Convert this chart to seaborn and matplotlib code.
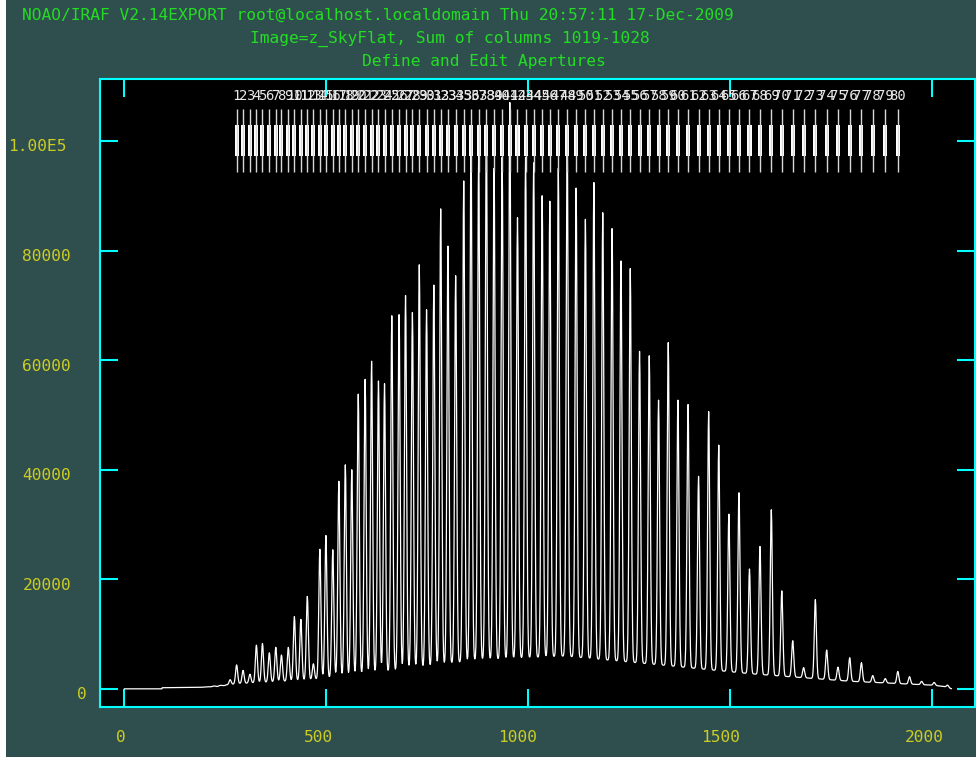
import numpy as np
import matplotlib
matplotlib.use("Agg")
import matplotlib.pyplot as plt
from matplotlib.patches import Rectangle
from matplotlib.transforms import ScaledTranslation, blended_transform_factory
import seaborn as sns

# ---- header text -------------------------------------------------------
header = "NOAO/IRAF V2.14EXPORT root@localhost.localdomain Thu 20:57:11 17-Dec-2009"
subtitle = "Image=z_SkyFlat, Sum of columns 1019-1028"
title = "Define and Edit Apertures"

# ---- apertures (column of centre) and peak counts of each fibre -------
aperture_ids = list(range(1, 81))
aperture_centers = [
    279, 295, 312, 328, 343, 360, 376, 390, 407, 422,
    438, 454, 469, 485, 500, 517, 532, 548, 564, 580,
    597, 613, 630, 645, 663, 681, 697, 714, 731, 749,
    767, 784, 802, 821, 841, 859, 878, 897, 916, 936,
    955, 974, 994, 1014, 1035, 1054, 1075, 1097, 1119, 1142,
    1163, 1185, 1208, 1230, 1253, 1276, 1300, 1323, 1347, 1371,
    1396, 1422, 1447, 1472, 1497, 1522, 1548, 1574, 1602, 1628,
    1655, 1682, 1711, 1739, 1767, 1796, 1825, 1853, 1884, 1915,
]
peak_heights = [
    4400, 3400, 2700, 8000, 8300, 6600, 7600, 6200, 7600, 13200,
    12700, 16900, 4600, 25500, 28000, 25400, 37900, 40900, 40000, 53800,
    56500, 59800, 56200, 55700, 68100, 68300, 71800, 68700, 77400, 69200,
    73700, 87600, 80800, 75400, 92700, 100000, 98000, 103000, 95000, 97000,
    107000, 86000, 97000, 96000, 90000, 89000, 95000, 100000, 91400, 85700,
    92400, 86900, 84000, 78100, 76700, 61600, 60800, 52700, 63200, 52700,
    51900, 38800, 50600, 44500, 31900, 35800, 21900, 26000, 32700, 17900,
    8800, 3900, 16300, 7100, 4000, 5700, 4800, 2450, 1900, 3200,
]

# faint fibres outside the defined apertures
extra_centers = [199, 215, 231, 247, 263, 1944, 1974, 2005, 2038]
extra_heights = [350, 400, 450, 600, 1700, 2250, 1400, 1200, 700]

# inter-fibre (scattered light) level
baseline_columns = [1, 94, 95, 190, 287, 452, 640, 876, 1092, 1342, 1548, 1800, 2000, 2030, 2048]
baseline_levels = [30, 30, 230, 300, 1000, 1600, 3000, 5300, 6000, 4300, 2800, 1400, 700, 450, 50]

xticks = [0, 500, 1000, 1500, 2000]
xtick_labels = ["0", "500", "1000", "1500", "2000"]
yticks = [0, 20000, 40000, 60000, 80000, 100000]
ytick_labels = ["0", "20000", "40000", "60000", "80000", "1.00E5"]

# ---- colours -------------------------------------------------------------
BG = "#2f4f4f"
AX = "#00ffff"
LABEL = "#cccc22"
TITLE = "#22dd22"

sns.set_theme(style="dark")
plt.rcParams["font.family"] = ["DejaVu Sans Mono"]

# ---- build the summed-column profile -------------------------------------
columns = np.arange(1, 2049)
flux = np.interp(columns, baseline_columns, baseline_levels).astype(float)
sigma = 2.6
for c, h in zip(aperture_centers + extra_centers, peak_heights + extra_heights):
    amp = h - np.interp(c, baseline_columns, baseline_levels)
    flux += amp * np.exp(-0.5 * ((columns - c) / sigma) ** 2)

W, H = 976, 757
fig = plt.figure(figsize=(W / 100, H / 100), dpi=100, facecolor=BG)
# white margin along the left edge of the window
fig.patches.append(Rectangle((0, 0), 6 / W, 1, transform=fig.transFigure,
                             facecolor="white", edgecolor="none", zorder=-1))
ax = fig.add_axes([100 / W, 1 - 707 / H, 875 / W, 628 / H])
ax.set_facecolor("black")

sns.lineplot(x=columns, y=flux, ax=ax, color="white", linewidth=0.9,
             estimator=None, sort=False)

# aperture markers
ax.vlines(aperture_centers, 94300, 105800, color="#d8d8d8", linewidth=1.0)
ax.bar(aperture_centers, 5600, bottom=97300, width=10, color="white",
       edgecolor="none", linewidth=0)
for i, c in zip(aperture_ids, aperture_centers):
    ax.text(c, 108200, str(i), ha="center", va="center", color="#e8e8e8",
            fontsize=10)

ax.set_xlim(-59, 2106)
ax.set_ylim(-3285, 111300)
ax.set_xlabel("")
ax.set_ylabel("")
ax.grid(False)

for s in ax.spines.values():
    s.set_visible(True)
    s.set_color(AX)
    s.set_linewidth(1.5)

ax.set_xticks(xticks)
ax.set_yticks(yticks)
ax.set_xticklabels([])
ax.set_yticklabels([])
ax.tick_params(axis="both", which="both", direction="in", length=13,
               width=1.5, color=AX, top=True, right=True,
               bottom=True, left=True)

# tick labels
px = fig.dpi_scale_trans
xt = blended_transform_factory(ax.transData, ax.transAxes)
x_nudge = [-3, -7, -10, -10, -8]
for v, lab, dx in zip(xticks, xtick_labels, x_nudge):
    ax.text(v, 0, lab, transform=xt + ScaledTranslation(dx / 100, -30 / 100, px),
            ha="center", va="center", color=LABEL, fontsize=11.7, clip_on=False)

yt = blended_transform_factory(ax.transAxes, ax.transData)
y_right = [87, 71, 71, 71, 71, 67]
for v, lab, xr in zip(yticks, ytick_labels, y_right):
    ax.text(0, v, lab, transform=yt + ScaledTranslation((xr - 100) / 100, -6 / 100, px),
            ha="right", va="center", color=LABEL, fontsize=11.7, clip_on=False)

# header lines
fig.text(22 / W, 1 - 19.5 / H, header, ha="left", va="baseline", color=TITLE, fontsize=11.7)
fig.text(250 / W, 1 - 43 / H, subtitle, ha="left", va="baseline", color=TITLE, fontsize=11.7)
fig.text(362 / W, 1 - 66 / H, title, ha="left", va="baseline", color=TITLE, fontsize=11.7)

fig.savefig("out.png", dpi=100, facecolor=BG)
